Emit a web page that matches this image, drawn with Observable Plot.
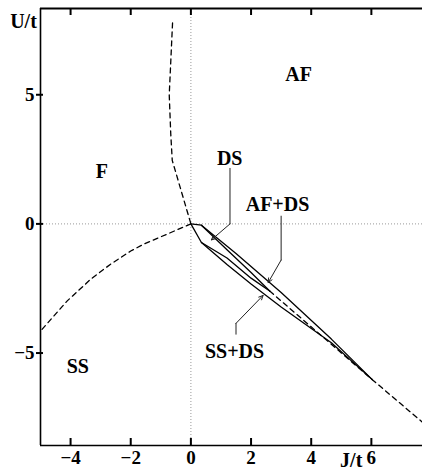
<!DOCTYPE html>
<html>
<head>
<meta charset="utf-8">
<script src="https://cdn.jsdelivr.net/npm/d3@7"></script>
<script src="https://cdn.jsdelivr.net/npm/@observablehq/plot@0.6"></script>
<style>
  html, body { margin: 0; padding: 0; background: white; }
</style>
</head>
<body>
<div id="chart"></div>
<script>
// axes
const xDomain = [-5, 7.7];
const yDomain = [-8.58, 8.34];
const xTicks = [-4, -2, 0, 2, 4, 6];
const yTicks = [-5, 0, 5];
const xLabel = "J/t";
const yLabel = "U/t";

// dashed phase boundaries [J, U]
const dashFtoAF = [[-0.61, 7.78], [-0.72, 5.0], [-0.67, 3.5], [-0.62, 2.46], [0, 0]];
const dashFtoSS = [[0, 0], [-0.78, -0.39], [-1.56, -0.78], [-2.0, -1.05], [-2.67, -1.56], [-3.33, -2.14], [-4.11, -2.98], [-5, -4.15]];
const dashAFtoSS = [[2.62, -2.6], [6.03, -6.03], [7.7, -7.68]];

// solid boundaries of the coexistence spindle [J, U]
const solidA = [[0, 0], [0.35, -0.05], [1.5, -1.15], [3.0, -2.66], [4.67, -4.46], [6.03, -6.03]];
const solidB = [[0.35, -0.05], [1.2, -1.0], [2.0, -1.88], [2.62, -2.6]];
const solidC = [[0.35, -0.72], [1.2, -1.32], [2.0, -2.1], [2.62, -2.6]];
const solidD = [[0, 0], [0.35, -0.72], [1.2, -1.57], [2.0, -2.33], [3.0, -3.22], [4.67, -4.6], [6.03, -6.03]];

// region labels
const regionLabels = ["AF", "DS", "F", "AF+DS", "SS+DS", "SS"];
const labelJ = [3.58, 1.29, -2.96, 2.88, 1.45, -3.76];
const labelU = [5.79, 2.54, 2.03, 0.75, -4.94, -5.52];

// leader lines (polyline part) and arrows
const leaderDS = [[1.3, 2.15], [1.3, 0.0]];
const leaderAFDS = [[3.0, 0.3], [3.0, -1.4]];
const leaderSSDS = [[1.5, -4.27], [1.5, -3.85]];
const arrowFrom = [[1.3, 0.0], [3.0, -1.4], [1.5, -3.85]];
const arrowTo = [[0.68, -0.62], [2.57, -2.27], [2.4, -2.77]];

const rows = (name, arr) => arr.map(([x, y]) => ({series: name, x, y}));
const dashed = [...rows("a", dashFtoAF), ...rows("b", dashFtoSS), ...rows("c", dashAFtoSS)];
const solid = [...rows("A", solidA), ...rows("B", solidB), ...rows("C", solidC), ...rows("D", solidD)];
const leaders = [...rows("l1", leaderDS), ...rows("l2", leaderAFDS), ...rows("l3", leaderSSDS)];
const arrows = arrowFrom.map((f, i) => ({x1: f[0], y1: f[1], x2: arrowTo[i][0], y2: arrowTo[i][1]}));

const font = "Liberation Serif, Times New Roman, serif";
const W = 422, H = 472, mL = 40, mR = 0, mT = 8, mB = 27;
const frameW = W - mL - mR, frameH = H - mT - mB;

const chart = Plot.plot({
  width: W,
  height: H,
  marginLeft: mL,
  marginRight: mR,
  marginTop: mT,
  marginBottom: mB,
  x: {domain: xDomain},
  y: {domain: yDomain},
  style: {fontFamily: font, fontWeight: "bold", fontSize: "19px", background: "white", color: "black", overflow: "visible"},
  marks: [
    Plot.ruleX([0], {stroke: "#999", strokeDasharray: "1,2", strokeWidth: 1}),
    Plot.ruleY([0], {stroke: "#999", strokeDasharray: "1,2", strokeWidth: 1}),
    Plot.ruleX([xDomain[0]], {stroke: "black", strokeWidth: 1.6}),
    Plot.ruleY([yDomain[0]], {stroke: "black", strokeWidth: 1.6}),
    Plot.ruleY([yDomain[1]], {stroke: "black", strokeWidth: 2}),
    // inward tick marks on bottom and top, short ticks across left axis
    Plot.ruleX(xTicks, {insetTop: frameH - 7, stroke: "black", strokeWidth: 2}),
    Plot.ruleX(xTicks, {insetBottom: frameH - 7, stroke: "black", strokeWidth: 2}),
    Plot.ruleY(yTicks, {insetLeft: -4, insetRight: frameW - 3, stroke: "black", strokeWidth: 2}),
    // tick labels
    Plot.axisX(xTicks, {anchor: "bottom", tickSize: 0, tickPadding: 5, label: null, fontSize: 19, fontWeight: "bold"}),
    Plot.axisY(yTicks, {anchor: "left", tickSize: 0, tickPadding: 6, label: null, fontSize: 19, fontWeight: "bold"}),
    Plot.line(dashed, {x: "x", y: "y", z: "series", stroke: "black", strokeWidth: 1.3, strokeDasharray: "5,4"}),
    Plot.line(solid, {x: "x", y: "y", z: "series", stroke: "black", strokeWidth: 1.3}),
    Plot.line(leaders, {x: "x", y: "y", z: "series", stroke: "#222", strokeWidth: 1}),
    Plot.arrow(arrows, {x1: "x1", y1: "y1", x2: "x2", y2: "y2", stroke: "#222", strokeWidth: 1, headLength: 7, headAngle: 50}),
    Plot.text(regionLabels, {x: (d, i) => labelJ[i], y: (d, i) => labelU[i], text: d => d, fontSize: 20, fontWeight: "bold", fill: "black"}),
    Plot.text([yLabel], {frameAnchor: "top-left", dx: -17, dy: 13, textAnchor: "middle", lineAnchor: "middle", text: d => d, fontSize: 20, fontWeight: "bold", fill: "black"}),
    Plot.text([xLabel], {x: () => 5.33, frameAnchor: "bottom", dy: 15, textAnchor: "middle", lineAnchor: "middle", text: d => d, fontSize: 20, fontWeight: "bold", fill: "black"})
  ]
});
document.getElementById("chart").appendChild(chart);
</script>
</body>
</html>
